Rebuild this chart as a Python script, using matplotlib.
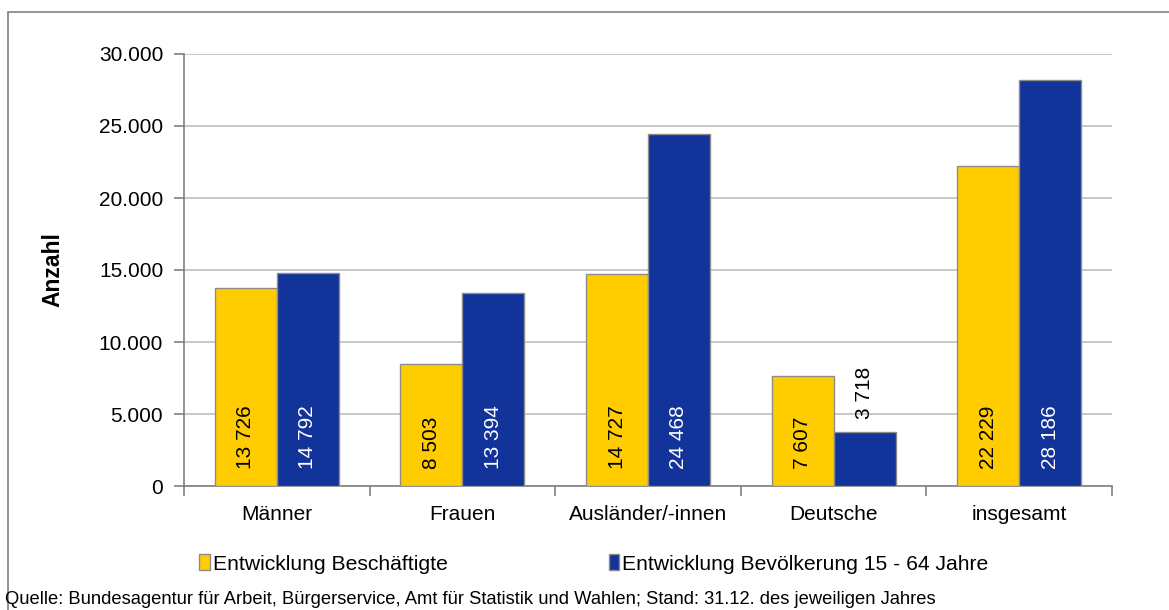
import matplotlib.pyplot as plt
from matplotlib.patches import Rectangle
from matplotlib.ticker import FuncFormatter, FixedLocator
import numpy as np

plt.rcParams['font.family'] = ['Liberation Sans', 'DejaVu Sans']

# Daten
categories = ["Männer", "Frauen", "Ausländer/-innen", "Deutsche", "insgesamt"]
beschaeftigte = [13726, 8503, 14727, 7607, 22229]
bevoelkerung = [14792, 13394, 24468, 3718, 28186]
series_names = ["Entwicklung Beschäftigte", "Entwicklung Bevölkerung 15 - 64 Jahre"]
source = ("Quelle: Bundesagentur für Arbeit, Bürgerservice, Amt für Statistik und Wahlen; "
          "Stand: 31.12. des jeweiligen Jahres")

yellow = "#FFCC00"
blue = "#12339A"
grid_c = "#BFBFBF"
fs = 15

W, H = 1169, 610
fig = plt.figure(figsize=(W / 100, H / 100), dpi=100)
# Rahmen
fig.patches.append(Rectangle((8 / W, -0.1), 1.2, 1 - 12 / H + 0.1, transform=fig.transFigure,
                             fill=False, edgecolor="#808080", linewidth=1.2))

ax = fig.add_axes([184 / W, 1 - 486 / H, 928 / W, 432 / H])

x = np.arange(len(categories))
bw = 0.334
b1 = ax.bar(x - bw / 2, beschaeftigte, bw, color=yellow, edgecolor="#8C8C8C", linewidth=1,
            label=series_names[0], zorder=3)
b2 = ax.bar(x + bw / 2, bevoelkerung, bw, color=blue, edgecolor="#8C8C8C", linewidth=1,
            label=series_names[1], zorder=3)

ax.set_xlim(-0.5, len(categories) - 0.5)
ax.set_ylim(0, 30000)
ax.yaxis.set_major_locator(FixedLocator(np.arange(0, 30001, 5000)))
ax.yaxis.set_major_formatter(FuncFormatter(lambda v, p: f"{int(v):,}".replace(",", ".")))
ax.grid(axis="y", color=grid_c, linewidth=1.2, zorder=0)
ax.set_axisbelow(True)

ax.set_xticks(x)
ax.set_xticklabels(categories)
ax.set_xticks(np.arange(-0.5, len(categories)), minor=True)
ax.tick_params(axis="x", which="major", length=0, pad=14, labelsize=fs)
ax.tick_params(axis="x", which="minor", length=7, color="#808080", width=1.2)
ax.tick_params(axis="y", length=7, color="#808080", width=1.2, labelsize=fs, pad=8)

for s in ["top", "right"]:
    ax.spines[s].set_visible(False)
for s in ["left", "bottom"]:
    ax.spines[s].set_color("#808080")
    ax.spines[s].set_linewidth(1.2)

ax.set_ylabel("Anzahl", fontsize=16.5, fontweight="bold")
ax.yaxis.set_label_coords((64 - 184) / 928, 0.5)


def fmt(v):
    return f"{v:,}".replace(",", " ")


for bars, vals, tc in [(b1, beschaeftigte, "black"), (b2, bevoelkerung, "white")]:
    for rect, v in zip(bars, vals):
        cx = rect.get_x() + rect.get_width() / 2
        if v > 6000:
            ax.text(cx, 1150, fmt(v), rotation=90, ha="center", va="bottom",
                    fontsize=fs, color=tc, zorder=4)
        else:
            ax.text(cx, v + 950, fmt(v), rotation=90, ha="center", va="bottom",
                    fontsize=fs, color="black", zorder=4)

leg = fig.legend(handles=[b1, b2], loc="center", bbox_to_anchor=(594 / W, 1 - 564 / H),
                 ncol=2, frameon=False, fontsize=15.2, handlelength=0.5, handleheight=0.75,
                 handletextpad=0.15, columnspacing=7.6)

fig.text(5 / W, 1 - 600 / H, source, fontsize=13.2, ha="left", va="center")

fig.savefig("out.png", dpi=100)
